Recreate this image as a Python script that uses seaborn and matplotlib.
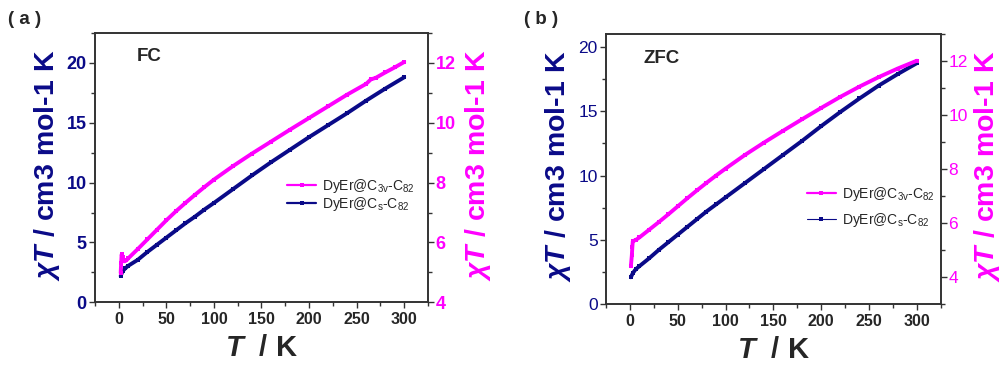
import numpy as np
import pandas as pd
import seaborn as sns
import matplotlib
matplotlib.use("Agg")
import matplotlib.pyplot as plt
from matplotlib.lines import Line2D
from matplotlib.ticker import MultipleLocator

# ---- data ----
# (a) FC, DyEr@Cs-C82, left axis
T_a_cs = [2, 4, 7, 10, 20, 30, 40, 50, 60, 70, 80, 90, 100, 120, 140, 160, 180, 200, 220, 240, 260, 280, 300]
chi_a_cs = [2.2, 2.6, 2.85, 3.05, 3.55, 4.2, 4.8, 5.4, 6.0, 6.6, 7.15, 7.75, 8.3, 9.45, 10.6, 11.7, 12.75, 13.8, 14.8, 15.8, 16.85, 17.85, 18.8]
# (a) FC, DyEr@C3v-C82, right axis
T_a_c3v = [2, 2.5, 3, 4, 6, 8, 10, 20, 30, 40, 50, 60, 70, 80, 90, 100, 120, 140, 160, 180, 200, 220, 240, 260, 265, 270, 280, 290, 300]
chi_a_c3v = [4.98, 5.3, 5.6, 5.5, 5.37, 5.4, 5.47, 5.78, 6.1, 6.42, 6.74, 7.04, 7.32, 7.59, 7.85, 8.1, 8.55, 8.97, 9.37, 9.77, 10.16, 10.55, 10.94, 11.3, 11.45, 11.5, 11.68, 11.85, 12.03]
# (b) ZFC, DyEr@Cs-C82, left axis
T_b_cs = [1, 3, 6, 10, 20, 30, 40, 50, 60, 70, 80, 90, 100, 120, 140, 160, 180, 200, 220, 240, 260, 280, 300]
chi_b_cs = [2.08, 2.4, 2.7, 2.95, 3.55, 4.2, 4.8, 5.4, 6.0, 6.6, 7.2, 7.75, 8.3, 9.4, 10.5, 11.6, 12.7, 13.85, 14.95, 16.0, 17.0, 17.9, 18.75]
# (b) ZFC, DyEr@C3v-C82, right axis
T_b_c3v = [1, 2, 2.5, 3, 6, 10, 20, 30, 40, 50, 60, 70, 80, 90, 100, 120, 140, 160, 180, 200, 220, 240, 260, 280, 300]
chi_b_c3v = [4.4, 4.8, 5.1, 5.33, 5.37, 5.47, 5.75, 6.03, 6.32, 6.62, 6.92, 7.21, 7.49, 7.76, 8.02, 8.52, 8.98, 9.42, 9.85, 10.27, 10.68, 11.06, 11.41, 11.73, 12.02]

LABEL_C3V = r"DyEr@C$_{\mathrm{3v}}$-C$_{\mathrm{82}}$"
LABEL_CS = r"DyEr@C$_{\mathrm{s}}$-C$_{\mathrm{82}}$"
YLABEL = r"$\chi T$ / cm3 mol-1 K"
XLABEL = r"$T$  / K"

NAVY = "#0a0a88"
MAGENTA = "#ff00ff"
SPINE = "#333333"

sns.set_style("ticks")
plt.rcParams["font.family"] = ["Liberation Sans", "DejaVu Sans"]
plt.rcParams["mathtext.fontset"] = "custom"
plt.rcParams["mathtext.rm"] = "Liberation Sans"
plt.rcParams["mathtext.it"] = "Liberation Sans:italic:bold"
plt.rcParams["mathtext.bf"] = "Liberation Sans:bold"

fig = plt.figure(figsize=(10.04, 3.69), dpi=100)
ax_a = fig.add_axes([0.0946, 0.1808, 0.3317, 0.7298])
ax_b = fig.add_axes([0.6036, 0.1762, 0.3334, 0.7309])


def draw_panel(ax, T_cs, chi_cs, T_c3v, chi_c3v, ylim_l, ylim_r, bold_y, title, tag, tag_xy,
               ylab_x, yrlab_x, leg_anchor, leg_space, cs_leg_lw):
    ax2 = ax.twinx()
    df_cs = pd.DataFrame({"T": T_cs, "chi": chi_cs})
    df_c3v = pd.DataFrame({"T": T_c3v, "chi": chi_c3v})
    sns.lineplot(data=df_cs, x="T", y="chi", ax=ax, color=NAVY, lw=2.8, marker="s",
                 markersize=3.5, markeredgewidth=0, errorbar=None, sort=False)
    sns.lineplot(data=df_c3v, x="T", y="chi", ax=ax2, color=MAGENTA, lw=2.8, marker="s",
                 markersize=3.5, markeredgewidth=0, errorbar=None, sort=False)

    ax.set_xlim(-25, 325)
    ax.set_ylim(*ylim_l)
    ax2.set_ylim(*ylim_r)
    ax.xaxis.set_major_locator(MultipleLocator(50))
    ax.xaxis.set_minor_locator(MultipleLocator(25))
    ax.yaxis.set_major_locator(MultipleLocator(5))
    ax.yaxis.set_minor_locator(MultipleLocator(2.5))
    ax2.yaxis.set_major_locator(MultipleLocator(2))
    ax2.yaxis.set_minor_locator(MultipleLocator(1))

    wt = "bold" if bold_y else "normal"
    ax.tick_params(axis="x", which="both", direction="out", length=4, width=1, color=SPINE,
                   labelsize=11.5, pad=3, top=False)
    ax.tick_params(axis="x", which="minor", length=3)
    for lab in ax.get_xticklabels():
        lab.set_fontweight("bold")
    ax.tick_params(axis="y", which="both", direction="out", length=4, width=1, color=SPINE,
                   labelsize=13 if bold_y else 12.5, labelcolor=NAVY, pad=2)
    ax.tick_params(axis="y", which="minor", length=3)
    ax2.tick_params(axis="y", which="both", direction="out", length=4, width=1, color=SPINE,
                    labelsize=13 if bold_y else 12.5, labelcolor=MAGENTA, pad=1.5)
    ax2.tick_params(axis="y", which="minor", length=3)
    for lab in ax.get_yticklabels() + ax2.get_yticklabels():
        lab.set_fontweight(wt)

    for a in (ax, ax2):
        for sp in a.spines.values():
            sp.set_color(SPINE)
            sp.set_linewidth(1.2)

    ax.set_xlabel(XLABEL, fontsize=21, fontweight="bold", va="center")
    ax.xaxis.set_label_coords(0.5, -0.171)
    ax.set_ylabel(YLABEL, fontsize=20.5, fontweight="bold", color=NAVY, va="center")
    ax.yaxis.set_label_coords(ylab_x, 0.51)
    ax2.set_ylabel(YLABEL, fontsize=20.5, fontweight="bold", color=MAGENTA, va="center",
                   rotation=90)
    ax2.yaxis.set_label_coords(yrlab_x, 0.51)

    ax.text(title[1], title[2], title[0], transform=ax.transAxes, fontsize=13.5,
            fontweight="bold", va="center", ha="left")
    fig.text(tag_xy[0], tag_xy[1], tag, fontsize=13.5, fontweight="bold", va="center", ha="left")

    handles = [
        Line2D([], [], color=MAGENTA, lw=1.6, marker="s", markersize=3, markeredgewidth=0),
        Line2D([], [], color=NAVY, lw=cs_leg_lw, marker="s", markersize=3, markeredgewidth=0),
    ]
    ax2.legend(handles, [LABEL_C3V, LABEL_CS], loc="upper left", bbox_to_anchor=leg_anchor,
               frameon=False, fontsize=10, numpoints=1, handlelength=2.1, handletextpad=0.4,
               labelspacing=leg_space, borderpad=0, borderaxespad=0)
    return ax2


draw_panel(ax_a, T_a_cs, chi_a_cs, T_a_c3v, chi_a_c3v, (0, 22.5), (4, 13), True,
           ("FC", 0.126, 0.912), "( a )", (0.008, 0.947), -0.144, 1.15, (0.577, 0.465), 0.0, 1.6)
draw_panel(ax_b, T_b_cs, chi_b_cs, T_b_c3v, chi_b_c3v, (0, 21), (3, 13), False,
           ("ZFC", 0.113, 0.909), "( b )", (0.522, 0.947), -0.143, 1.138, (0.60, 0.44), 0.55, 0.8)

fig.savefig("out.png", dpi=100)
